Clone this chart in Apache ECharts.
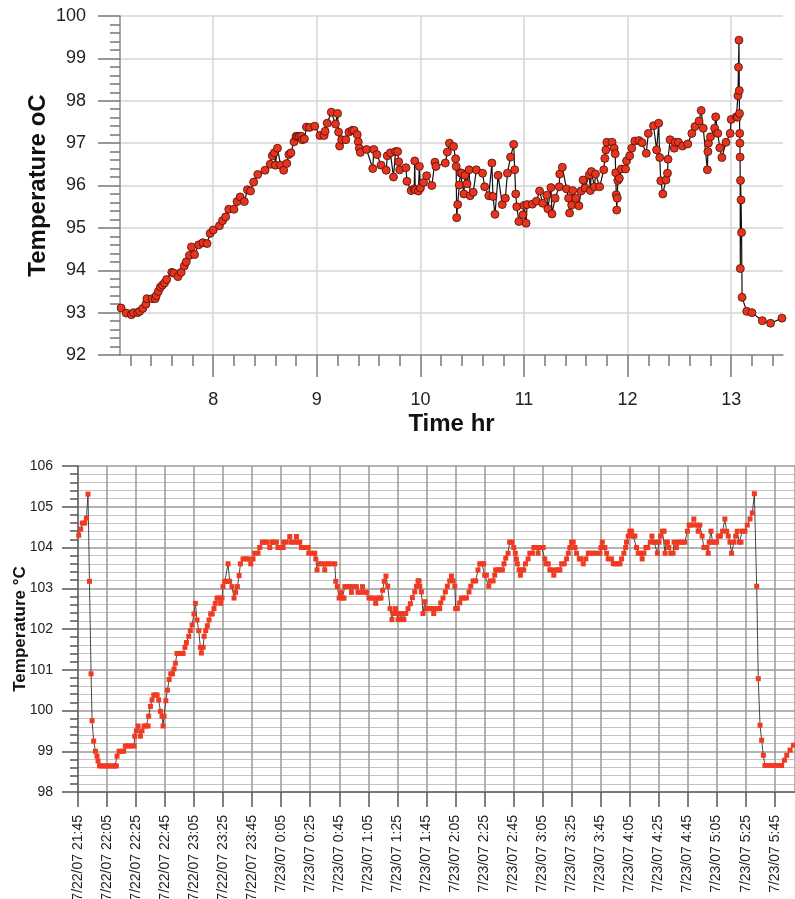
<!DOCTYPE html>
<html>
<head>
<meta charset="utf-8">
<script src="https://cdn.jsdelivr.net/npm/echarts@6/dist/echarts.min.js"></script>
<style>
  html, body { margin: 0; padding: 0; background: #fff; }
  #main { width: 795px; height: 899px; }
</style>
</head>
<body>
<div id="main"></div>
<script>
// top panel: temperature against time in hours
var topHours = [7.11,7.16,7.21,7.23,7.27,7.29,7.32,7.35,7.36,7.41,7.44,7.45,7.47,7.49,7.51,7.53,7.55,7.6,7.62,7.66,
  7.69,7.72,7.74,7.77,7.79,7.82,7.86,7.9,7.94,7.97,8.0,8.06,8.09,8.12,8.15,8.2,8.23,8.26,8.3,8.33,
  8.36,8.39,8.43,8.5,8.55,8.57,8.59,8.6,8.62,8.65,8.68,8.71,8.73,8.75,8.78,8.8,8.81,8.83,8.85,8.86,
  8.88,8.9,8.93,8.98,9.03,9.07,9.08,9.1,9.14,9.18,9.2,9.21,9.22,9.24,9.28,9.31,9.34,9.36,9.39,9.4,
  9.41,9.42,9.48,9.54,9.55,9.58,9.62,9.67,9.68,9.71,9.74,9.76,9.78,9.79,9.8,9.86,9.87,9.91,9.94,9.945,
  9.95,9.98,9.99,10.0,10.03,10.06,10.11,10.14,10.15,10.24,10.26,10.28,10.32,10.34,10.345,10.35,10.36,10.375,10.385,10.4,
  10.42,10.43,10.45,10.47,10.48,10.51,10.54,10.6,10.62,10.66,10.69,10.7,10.72,10.75,10.79,10.82,10.84,10.87,10.9,10.91,
  10.92,10.93,10.95,10.99,11.0,11.02,11.03,11.08,11.12,11.15,11.18,11.22,11.23,11.26,11.27,11.3,11.34,11.345,11.37,11.41,
  11.43,11.44,11.46,11.47,11.5,11.53,11.55,11.57,11.59,11.63,11.64,11.65,11.68,11.69,11.73,11.77,11.78,11.79,11.8,11.85,
  11.87,11.88,11.885,11.89,11.895,11.9,11.905,11.92,11.94,11.98,11.99,12.02,12.04,12.07,12.11,12.14,12.18,12.2,12.25,12.28,
  12.3,12.31,12.32,12.34,12.37,12.385,12.39,12.41,12.45,12.46,12.49,12.53,12.58,12.62,12.65,12.69,12.71,12.73,12.77,12.775,
  12.78,12.8,12.84,12.85,12.87,12.89,12.91,12.95,12.99,13.0,13.05,13.06,13.065,13.07,13.075,13.078,13.08,13.082,13.084,13.086,
  13.088,13.09,13.095,13.1,13.105,13.15,13.2,13.3,13.38,13.49];
var topTemps = [93.11,92.99,92.95,93.0,93.0,93.03,93.1,93.2,93.33,93.33,93.33,93.4,93.5,93.6,93.65,93.7,93.78,93.95,93.93,93.85,
  93.95,94.1,94.2,94.35,94.55,94.37,94.6,94.65,94.63,94.87,94.95,95.05,95.17,95.26,95.44,95.44,95.62,95.73,95.62,95.9,
  95.87,96.08,96.26,96.36,96.5,96.7,96.77,96.48,96.88,96.48,96.36,96.52,96.73,96.77,97.03,97.16,97.16,97.16,97.16,97.08,
  97.1,97.38,97.37,97.4,97.18,97.18,97.28,97.47,97.73,97.45,97.7,97.26,96.93,97.08,97.08,97.26,97.3,97.3,97.2,97.03,
  96.88,96.78,96.85,96.4,96.85,96.73,96.48,96.36,96.7,96.77,96.2,96.8,96.8,96.56,96.37,96.42,96.1,95.88,95.92,96.58,
  95.9,95.87,96.45,95.94,96.07,96.23,96.0,96.55,96.45,96.53,96.79,97.0,96.92,96.63,96.45,95.24,95.55,96.01,96.3,96.29,
  95.8,96.24,96.04,96.37,95.76,95.84,96.37,96.29,95.97,95.76,96.53,95.74,95.32,96.24,95.55,95.7,96.29,96.67,96.97,96.37,
  95.8,95.5,95.15,95.31,95.53,95.11,95.55,95.56,95.63,95.87,95.58,95.77,95.45,95.95,95.33,95.7,95.97,96.27,96.43,95.92,
  95.7,95.35,95.54,95.88,95.7,95.52,95.87,96.13,95.94,96.25,95.88,96.33,95.97,96.27,95.97,96.37,96.64,96.84,97.02,97.02,
  96.88,96.75,96.3,95.78,95.42,95.7,96.12,96.17,96.39,96.39,96.58,96.7,96.88,97.05,97.06,97.01,96.76,97.23,97.41,96.84,
  97.47,96.66,96.11,95.8,96.13,96.29,96.62,97.08,96.88,97.02,97.02,96.93,96.98,97.23,97.39,97.52,97.77,97.35,96.37,96.8,
  97.0,97.15,97.35,97.62,97.23,96.89,96.66,97.02,97.23,97.56,97.62,97.61,98.12,98.79,99.43,98.24,97.7,97.23,97.0,96.67,
  94.04,96.12,95.66,94.89,93.36,93.03,93.0,92.81,92.75,92.87];
var topMajorTicks = [8, 9, 10, 11, 12, 13];

// bottom panel: minutes after 7/22/07 21:45
var botMinutes = [0.5,1.9,3.0,4.6,5.8,6.9,7.9,9.0,9.7,10.8,12.0,13.1,13.8,14.8,16.5,18,19.5,21,22.5,24,
  25.5,26.4,26.9,28.3,30,31.5,32.6,34,35.5,37,38.6,39.1,40.2,41.4,43,44.1,45.5,47,48.3,48.7,
  49.9,51,52.2,53.3,54.5,55.6,56.8,57.9,58.6,59.3,60.5,61.6,62.8,63.9,65.1,66.2,67.1,68.2,69.5,71,
  72.4,73.7,74.7,76.3,77.4,78.6,79.9,80.9,82,83.2,84.3,85,86.2,86.9,88,89.1,90.3,91.4,92.5,93.7,
  94.6,95.8,97,98.3,99.2,99.9,101.1,102.3,103.4,104.5,106.1,107.5,108.6,109.8,111,111.9,113.7,115.5,117.3,119,
  120.6,121.8,124,125.2,127,128.5,130,132.1,133.5,135,136.7,137.8,139.5,141.3,141.7,143.5,145.9,147,148.8,150.5,
  151.6,152.8,153.9,156,158.5,159,161,163.1,163.8,164.7,166.1,168,170,170.7,172.5,174.5,176.9,177.6,178.7,179.9,
  181,182.2,183.3,183.8,185.5,187,188.4,189.5,191.8,192.9,194.5,196,197.5,198.7,200.5,202,203.5,205.1,206.2,207.5,
  208.8,209.9,211,212.2,213.4,215,216.3,217.3,218.7,219.5,220.5,221.5,222.5,223.5,224.5,225.8,227.4,229,230.4,232,
  233.2,234.3,235,235.5,236.6,237.7,238.9,240,241.5,243,244.6,245.1,246.9,248,249.2,249.9,251.5,253.1,254.5,256.1,
  257.3,258.4,259.6,260.2,261.4,263,264.1,265.8,267.6,269.4,270.6,272.2,274,275.6,276.8,278.4,279.5,280.2,281.4,283,
  284.1,286,287.1,287.8,289.5,291,292.4,293.5,294.7,296.3,297.4,299,300.2,301.3,302,302.7,303.9,304.8,306.2,307.1,
  308.3,310.1,311.3,313.1,314.1,315.9,317,318,319.5,320.5,321.6,322.3,324,325.1,326.5,327.8,329.7,331,332,333.2,
  335,336.6,337.8,338.9,340.1,341.2,342.4,343.5,345.4,346.5,348.1,349.9,351.6,353,355,357,359.6,360.3,361.2,361.9,
  363,364.2,365.3,367.6,368.8,370.5,372,373.4,374.5,376.1,377.3,377.9,379.1,380.2,381.4,382.5,383.7,384.8,386,387.6,
  388.7,389.9,391.3,392.5,394.3,395.4,396.9,398,399.2,400.3,401.3,402.7,403.8,404.5,405.2,406.1,407,408.4,410,410.7,
  412.3,413.5,415,416.5,418.1,419.9,421.1,422.7,424.3,426.1,427.3,428.4,430,431.2,433.1,434.2,434.9,436.1,437.2,438.6,
  440,441.1,442.6,444.1,445.7,446.9,448,449.2,450.3,451.9,453.1,454.2,455.6,456.8,457.7,459.5,461.1,463,464.6,466,
  467.6,468.7,469.9,471,472.2,473.3,475,477,479,481,483,484.8,486.7,488.3,490.6,492.9];
var botTemps = [104.3,104.45,104.6,104.6,104.72,105.31,103.17,100.9,99.75,99.25,99.0,98.88,98.76,98.64,98.64,98.64,98.64,98.64,98.64,98.64,
  98.64,98.64,98.88,99.0,99.0,99.0,99.13,99.13,99.13,99.13,99.13,99.37,99.5,99.62,99.37,99.5,99.62,99.62,99.62,99.86,
  100.1,100.26,100.38,100.38,100.38,100.26,99.98,99.86,99.62,99.86,100.24,100.5,100.76,100.9,100.9,101.02,101.16,101.4,101.4,101.4,
  101.4,101.55,101.67,101.82,101.96,102.1,102.37,102.63,102.22,101.96,101.55,101.41,101.55,101.82,101.96,102.08,102.22,102.37,102.37,102.5,
  102.63,102.76,102.76,102.63,102.76,103.04,103.17,103.17,103.6,103.17,103.04,102.76,102.9,103.04,103.31,103.6,103.72,103.72,103.72,103.6,
  103.72,103.86,103.86,104.0,104.13,104.13,104.13,104.0,104.13,104.13,104.13,104.0,104.0,104.0,104.13,104.13,104.27,104.13,104.13,104.27,
  104.13,104.13,104.0,104.0,104.0,103.86,103.86,103.86,103.72,103.45,103.6,103.6,103.45,103.6,103.6,103.6,103.6,103.17,103.04,102.76,
  102.9,102.76,102.76,103.04,103.04,103.04,102.9,103.04,103.04,102.9,102.9,103.04,102.9,102.9,102.76,102.76,102.76,102.63,102.76,102.76,
  102.76,102.95,103.17,103.3,103.05,102.5,102.23,102.38,102.5,102.38,102.23,102.38,102.23,102.38,102.23,102.38,102.5,102.62,102.77,102.91,
  103.05,103.18,103.18,103.05,102.91,102.38,102.67,102.5,102.5,102.5,102.5,102.38,102.5,102.5,102.5,102.64,102.76,102.91,103.05,103.18,
  103.3,103.18,103.05,102.5,102.5,102.64,102.76,102.76,102.76,102.91,103.05,103.18,103.18,103.45,103.6,103.6,103.6,103.32,103.32,103.05,
  103.18,103.18,103.32,103.45,103.45,103.45,103.45,103.6,103.74,103.86,104.13,104.13,104.0,103.86,103.72,103.6,103.45,103.32,103.45,103.45,
  103.6,103.72,103.86,103.86,104.0,104.0,103.86,104.0,104.0,104.0,103.72,103.6,103.6,103.45,103.45,103.32,103.45,103.45,103.45,103.6,
  103.6,103.72,103.86,104.0,104.13,104.13,104.0,103.86,103.72,103.72,103.6,103.72,103.86,103.86,103.86,103.86,103.86,104.0,104.13,104.0,
  104.0,103.86,103.72,103.72,103.6,103.6,103.6,103.6,103.72,103.86,104.0,104.13,104.28,104.4,104.4,104.28,104.28,104.0,103.86,103.86,
  103.72,103.86,104.0,104.0,104.13,104.28,104.13,104.13,103.86,104.13,104.28,104.4,104.4,103.86,104.13,104.13,104.0,103.86,103.86,104.13,
  104.0,104.13,104.13,104.13,104.13,104.4,104.55,104.55,104.7,104.55,104.4,104.55,104.28,104.0,104.0,103.86,104.13,104.4,104.13,104.13,
  104.13,104.28,104.28,104.4,104.7,104.4,104.28,104.13,103.86,104.13,104.28,104.4,104.13,104.13,104.4,104.4,104.55,104.7,104.85,105.32,
  103.05,100.78,99.64,99.27,98.9,98.65,98.65,98.65,98.65,98.65,98.65,98.65,98.78,98.9,99.03,99.15];
var botTickLabels = ['7/22/07 21:45','7/22/07 22:05','7/22/07 22:25','7/22/07 22:45','7/22/07 23:05',
  '7/22/07 23:25','7/22/07 23:45','7/23/07 0:05','7/23/07 0:25','7/23/07 0:45','7/23/07 1:05',
  '7/23/07 1:25','7/23/07 1:45','7/23/07 2:05','7/23/07 2:25','7/23/07 2:45','7/23/07 3:05',
  '7/23/07 3:25','7/23/07 3:45','7/23/07 4:05','7/23/07 4:25','7/23/07 4:45','7/23/07 5:05',
  '7/23/07 5:25','7/23/07 5:45'];

var FONT = "'Liberation Sans', Arial, sans-serif";

var topMinorTicks = [];
for (var t = 72; t <= 134; t += 2) topMinorTicks.push(t / 10);

var topData = topHours.map(function (h, i) { return [h, topTemps[i]]; });
var botData = botMinutes.map(function (m, i) { return [m, botTemps[i]]; });

var myChart = echarts.init(document.getElementById('main'));
var option = {
  animation: false,
  backgroundColor: '#fff',
  textStyle: { fontFamily: FONT },
  grid: [
    { left: 120, top: 16, width: 663, height: 339, outerBoundsMode: 'none', containLabel: false },
    { left: 78, top: 466, width: 717, height: 326, outerBoundsMode: 'none', containLabel: false }
  ],
  xAxis: [
    { // minor ticks of the top panel
      type: 'value', gridIndex: 0, position: 'bottom', min: 7.1, max: 13.5,
      axisLine: { show: true, lineStyle: { color: '#8a8a8a', width: 1.5 } },
      axisTick: { show: true, customValues: topMinorTicks, length: 11, lineStyle: { color: '#777', width: 1.5 } },
      axisLabel: { show: false },
      splitLine: { show: false }
    },
    { // major ticks, labels and grid of the top panel
      type: 'value', gridIndex: 0, position: 'bottom', min: 7.1, max: 13.5,
      axisLine: { show: false },
      axisTick: { show: true, customValues: topMajorTicks, length: 22, lineStyle: { color: '#777', width: 1.5 } },
      axisLabel: { customValues: topMajorTicks, fontSize: 18, color: '#222', margin: 36, fontFamily: FONT },
      splitLine: { show: true, lineStyle: { color: '#d6d6d6', width: 1.5 } },
      name: 'Time hr', nameLocation: 'middle', nameGap: 57, nameMoveOverlap: false,
      nameTextStyle: { fontSize: 24, fontWeight: 'bold', color: '#111', fontFamily: FONT }
    },
    {
      type: 'value', gridIndex: 1, position: 'bottom', min: 0, max: 494, interval: 20,
      axisLine: { show: true, lineStyle: { color: '#666', width: 1.5 } },
      axisTick: { show: true, length: 15, lineStyle: { color: '#555', width: 1.5 } },
      axisLabel: {
        rotate: 90, fontSize: 14, color: '#222', margin: 23, fontFamily: FONT,
        showMaxLabel: false,
        formatter: function (v) {
          var i = Math.round(v / 20);
          return (Math.abs(v - i * 20) < 1e-6 && botTickLabels[i]) ? botTickLabels[i] : '';
        }
      },
      splitLine: { show: true, lineStyle: { color: '#9a9a9a', width: 1.5 } }
    }
  ],
  yAxis: [
    {
      type: 'value', gridIndex: 0, min: 92, max: 100, interval: 1,
      axisLine: { show: true, lineStyle: { color: '#8a8a8a', width: 1.5 } },
      axisTick: { show: true, length: 22, lineStyle: { color: '#777', width: 1.5 } },
      minorTick: { show: true, splitNumber: 5, length: 10, lineStyle: { color: '#777', width: 1.5 } },
      axisLabel: { fontSize: 18, color: '#222', margin: 34, fontFamily: FONT },
      splitLine: { show: true, lineStyle: { color: '#d6d6d6', width: 1.5 } },
      name: 'Temperature oC', nameLocation: 'middle', nameGap: 70, nameMoveOverlap: false,
      nameTextStyle: { fontSize: 24, fontWeight: 'bold', color: '#111', fontFamily: FONT }
    },
    {
      type: 'value', gridIndex: 1, min: 98, max: 106, interval: 1,
      axisLine: { show: true, lineStyle: { color: '#666', width: 1.5 } },
      axisTick: { show: true, length: 16, lineStyle: { color: '#555', width: 1.5 } },
      minorTick: { show: true, splitNumber: 5, length: 8, lineStyle: { color: '#555', width: 1.5 } },
      axisLabel: { fontSize: 14, color: '#222', margin: 25, fontFamily: FONT },
      splitLine: { show: true, lineStyle: { color: '#9a9a9a', width: 1.5 } },
      minorSplitLine: { show: true, lineStyle: { color: '#c4c4c4', width: 1 } },
      name: 'Temperature \u00B0C', nameLocation: 'middle', nameGap: 49, nameMoveOverlap: false,
      nameTextStyle: { fontSize: 17, fontWeight: 'bold', color: '#111', fontFamily: FONT }
    }
  ],
  series: [
    {
      name: 'top', type: 'line', xAxisIndex: 1, yAxisIndex: 0,
      data: topData,
      symbol: 'circle', symbolSize: 8,
      itemStyle: { color: '#e8341f', borderColor: '#4a1006', borderWidth: 0.8 },
      lineStyle: { color: '#111', width: 1.2 }
    },
    {
      name: 'bottom', type: 'line', xAxisIndex: 2, yAxisIndex: 1,
      data: botData,
      symbol: 'rect', symbolSize: 5,
      itemStyle: { color: '#f23a21', borderWidth: 0 },
      lineStyle: { color: '#333', width: 0.9 }
    }
  ]
};

option && myChart.setOption(option);
</script>
</body>
</html>
